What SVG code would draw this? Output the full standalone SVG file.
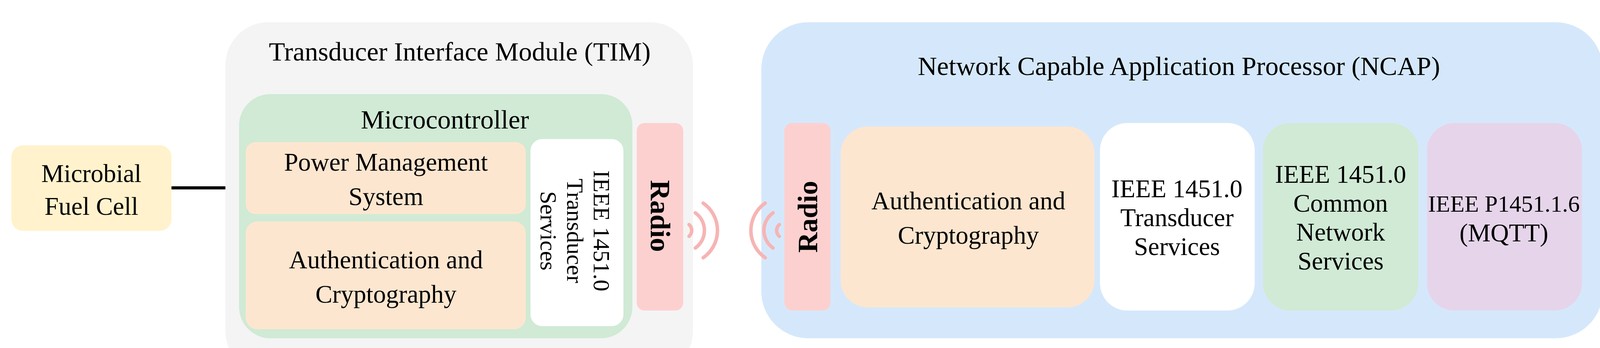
<svg xmlns="http://www.w3.org/2000/svg" width="4299" height="891" viewBox="0 0 4299 891">
<style>
text{font-family:"Liberation Serif","Times New Roman",serif;fill:#000;text-anchor:middle}
.t{font-size:68px}
.l{font-size:65px}
.r{font-size:60px}
.w{fill:none;stroke:#f7b4b4;stroke-width:9;stroke-linecap:round}
</style>
<rect width="4299" height="891" fill="#fff"/>
<g id="fuelcell"><rect x="29" y="372" width="410" height="219" rx="30" fill="#fff2cc"/>
<text class="l" x="234" y="466">Microbial</text><text class="l" x="234" y="550">Fuel Cell</text></g>
<g id="tim"><rect x="577" y="57" width="1197" height="900" rx="110" fill="#f4f4f4"/>
<text class="t" x="1177" y="155">Transducer Interface Module (TIM)</text></g>
<g id="mcu"><rect x="612" y="241" width="1007" height="625" rx="80" fill="#d0ead5"/>
<text class="t" x="1139" y="329">Microcontroller</text></g>
<g id="pms"><rect x="629" y="364" width="717" height="184" rx="25" fill="#fde6cf"/>
<text class="l" x="988" y="437">Power Management</text><text class="l" x="988" y="525">System</text></g>
<g id="tim-auth"><rect x="629" y="567" width="717" height="276" rx="30" fill="#fde6cf"/>
<text class="l" x="988" y="687">Authentication and</text><text class="l" x="988" y="775">Cryptography</text></g>
<g id="tim-ts"><rect x="1358" y="356" width="238" height="479" rx="30" fill="#fff"/>
<g transform="translate(1470,591) rotate(90)"><text class="r" x="0" y="-50">IEEE 1451.0</text><text class="r" x="0" y="18">Transducer</text><text class="r" x="0" y="86">Services</text></g></g>
<g id="tim-radio"><rect x="1630" y="315" width="119" height="480" rx="20" fill="#fdd0d0"/>
<text transform="translate(1666,553) rotate(90)" x="0" y="0" style="font-size:72px;font-weight:bold">Radio</text></g>
<g id="ncap"><rect x="1949" y="57" width="2154" height="809" rx="120" fill="#d5e8fb"/>
<text class="t" x="3018" y="192">Network Capable Application Processor (NCAP)</text></g>
<g id="ncap-radio"><rect x="2008" y="315" width="118" height="480" rx="20" fill="#fdd0d0"/>
<text transform="translate(2092,555) rotate(-90)" x="0" y="0" style="font-size:72px;font-weight:bold">Radio</text></g>
<g id="ncap-auth"><rect x="2152" y="324" width="650" height="463" rx="70" fill="#fde6cf"/>
<text class="l" x="2479" y="536">Authentication and</text><text class="l" x="2479" y="624">Cryptography</text></g>
<g id="ncap-ts"><rect x="2816" y="315" width="396" height="480" rx="70" fill="#fff"/>
<text class="l" x="3013" y="505">IEEE 1451.0</text><text class="l" x="3013" y="579">Transducer</text><text class="l" x="3013" y="653">Services</text></g>
<g id="ncap-cns"><rect x="3233" y="315" width="398" height="480" rx="70" fill="#d0ead5"/>
<text class="l" x="3432" y="468">IEEE 1451.0</text><text class="l" x="3432" y="542">Common</text><text class="l" x="3432" y="616">Network</text><text class="l" x="3432" y="690">Services</text></g>
<g id="ncap-mqtt"><rect x="3653" y="315" width="397" height="480" rx="70" fill="#e6d5ea"/>
<text class="l" x="3850" y="542" style="font-size:60px">IEEE P1451.1.6</text><text class="l" x="3850" y="618">(MQTT)</text></g>
<g id="network"><text transform="translate(4222,463) rotate(90)" x="0" y="0" style="font-size:74px;font-weight:bold">Network/Intranet</text></g>
<g id="connectors">
<line x1="439" y1="481" x2="577" y2="481" stroke="#000" stroke-width="8"/>
<line x1="4103" y1="463" x2="4173" y2="463" stroke="#000" stroke-width="10"/>
<line x1="4173" y1="23" x2="4173" y2="866" stroke="#000" stroke-width="7"/>
<g class="w">
<path d="M1764 575 A20 20 0 0 1 1764 605"/>
<path d="M1780 545 A55 55 0 0 1 1780 635"/>
<path d="M1800 520 A85 85 0 0 1 1800 660"/>
<path d="M1995 575 A20 20 0 0 0 1995 605"/>
<path d="M1979 545 A55 55 0 0 0 1979 635"/>
<path d="M1959 520 A85 85 0 0 0 1959 660"/>
</g>
</g>
</svg>
